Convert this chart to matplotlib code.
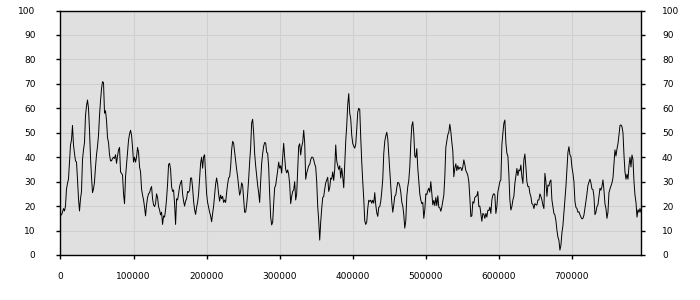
import matplotlib
matplotlib.use("Agg")
import matplotlib.pyplot as plt
import matplotlib.transforms as mtransforms
import numpy as np

# sample spacing along the x axis
step = 1370

# series values left to right
seg1 = [16.4, 16.4, 17.5, 19, 18, 20, 27, 29.3, 31, 38, 45, 47, 53, 45, 41.5, 38.5, 38, 31, 23, 18,
        23, 26, 39, 43, 46, 57, 61, 63.4, 60, 51, 40, 32, 25.5, 27, 30, 36, 41, 44.5, 49, 57,
        63, 68, 70.9, 70.5, 58, 59, 55, 48, 46, 41, 38.5, 38.5, 39.5, 40, 39.5, 41, 37.5, 40.5, 43, 44,
        34, 33.4, 32.7, 25, 21, 32, 37, 42, 47, 49.5, 51, 49, 44, 38, 40, 38, 40, 44, 42, 36,
        34, 27, 24.5, 22.5, 19.5, 16, 20.5, 23.5, 25, 25.5, 27, 28, 23, 20.5, 19.8, 21, 25, 23.5, 19.8, 18.4]
seg2 = [16.4, 17.5, 12.5, 16, 15.5, 18.5, 23, 29, 37, 37.5, 35, 28, 26, 26.6, 21, 12.5, 23, 22.5, 25, 28,
        29.5, 30.5, 25, 22, 20, 22, 23, 26, 25.6, 26.5, 31.5, 31.5, 27.5, 22, 18.5, 16.6, 19.5, 21.5, 25, 31,
        37.5, 40, 35.5, 40.2, 41, 33, 25, 21.5, 19.5, 17.5, 16, 13.6, 17, 20, 24.5, 29, 31.5, 29, 25, 22,
        24.5, 23, 24, 21.5, 22.5, 21.5, 25.5, 29, 31.5, 32, 36, 43, 46.5, 45.7, 42, 38, 35, 32, 28, 24.5,
        26, 29.5, 28.5, 23, 17.5, 17.5, 20.5, 25, 31, 38, 44, 54, 55.5, 50, 41.5, 36.5, 32.5, 28.5, 25.5, 21.5]
seg3 = [30, 37.5, 41.5, 44.5, 46, 45.8, 42, 41.6, 36, 25, 15.5, 12.3, 13.4, 21, 27.5, 28.5, 31.5, 34.5, 38, 35.5,
        36.5, 33.5, 40, 45.7, 40, 35, 33.6, 34.8, 33, 29, 21, 24, 26, 26.6, 30, 22.5, 25, 34.5, 44.5, 45.5,
        40.9, 44.3, 46, 51, 46, 31, 33.5, 35, 36.5, 37, 39, 40, 40, 39, 37.2, 36, 30, 20, 14, 6.1,
        13.5, 19, 23.5, 23.9, 27, 29.5, 30.6, 31.8, 26, 27.5, 31.5, 31, 34, 30.5, 35, 45, 38.5, 36.6, 35, 36.5,
        31.5, 35.5, 32, 27.5, 37, 46.5, 53, 61.5, 66, 58, 55.7, 49, 45.6, 44.5, 43.7, 45.3, 51.5, 58.5, 60, 59.5]
seg4 = [48, 38, 30, 23, 14, 12.5, 13.5, 19, 22.4, 21.9, 22.4, 21.2, 22.4, 21.2, 25.5, 20.5, 17.3, 15.8, 19.5, 19.8,
        22, 26, 31, 41.5, 46.5, 48.7, 50.2, 47.5, 41, 34, 27.5, 21.7, 17.5, 20.5, 24, 24.5, 27.5, 29.7, 29.5, 28.2,
        25.7, 21.6, 20, 16.5, 11, 14, 23.9, 28, 30.5, 36, 45.7, 52.8, 54.5, 49.5, 40.5, 39.8, 43.5, 35.5, 30.5, 25,
        22.5, 21, 21.5, 15, 18.5, 25, 24.7, 26.3, 27.3, 25.7, 30, 25, 20.5, 22.3, 20.2, 23.5, 20.2, 24.2, 19.5, 19.3,
        17.9, 19.6, 22, 24.5, 32, 44, 46.7, 49.2, 50.3, 53.5, 50.5, 46.2, 42.5, 32, 35.5, 37.3, 34.5, 36.5, 35, 35.8]
seg5 = [35.7, 34.5, 36, 38.9, 37, 34.5, 33.7, 32.5, 30, 23.5, 15.7, 16, 21.8, 21.2, 23.5, 24, 24.2, 26, 19.8, 20,
        17, 13.8, 17, 16.6, 15, 17, 15.5, 18.3, 18.2, 19.6, 17, 22.5, 24.5, 25.1, 24.5, 17, 19.8, 25.8, 28, 30,
        30.7, 45, 49.8, 53.9, 55.2, 46, 41.6, 40.5, 33, 22.5, 18.4, 19.8, 22.5, 24, 29.3, 32.5, 35.4, 32.5, 34.8, 34.4,
        36.8, 32, 29.3, 39, 41.3, 36, 30, 28, 28, 25.2, 23.9, 21, 20.7, 19, 21, 20.6, 20.4, 22.5, 22.5, 25,
        24, 22.5, 20.4, 19, 33.4, 30, 24, 28.6, 28.2, 30, 30.7, 22.5, 19.8, 17, 16.4, 14, 10.2, 7.3, 6, 2]
seg6 = [4, 9, 12, 17.5, 23, 28, 35, 42, 44.3, 41, 40.2, 36, 33.4, 30, 22, 19.5, 19, 17.5, 17.7, 16.5,
        15.5, 14.8, 15, 16.3, 19, 22, 25, 28.5, 29.8, 31, 29.5, 27, 26.8, 24, 16.5, 17.5, 19.8, 20.5, 24, 27.3,
        26.5, 28, 30.7, 26.5, 21, 19, 15, 17.5, 25.5, 27, 28.3, 29.5, 31.5, 37, 43, 40.5, 43.4, 45.5, 49, 53,
        53.2, 52.5, 50, 41, 34, 31, 33, 31, 36.5, 40, 36, 40.9, 39, 30, 24.5, 21.5, 15.5, 18.5, 17.5, 19,
        17.5]

values = seg1 + seg2 + seg3 + seg4 + seg5 + seg6
xs = np.arange(len(values)) * step

x_ticks = [0, 100000, 200000, 300000, 400000, 500000, 600000, 700000]
y_ticks = [0, 10, 20, 30, 40, 50, 60, 70, 80, 90, 100]

plt.rcParams['font.family'] = ['DejaVu Sans']

fig = plt.figure(figsize=(7, 3), dpi=100)
ax = fig.add_axes([0.0864, 0.15, 0.8293, 0.815])
ax.set_facecolor('#e0e0e0')

ax.plot(xs, values, color='black', linewidth=0.7)

ax.set_xlim(0, xs[-1])
ax.set_ylim(0, 100)
ax.set_xticks(x_ticks)
ax.set_xticklabels([str(t) for t in x_ticks])
ax.set_yticks(y_ticks)

ax.grid(True, color='#cfcfcf', linewidth=0.8)
ax.set_axisbelow(True)

for s in ax.spines.values():
    s.set_color('black')
    s.set_linewidth(1)

ax.tick_params(axis='x', direction='out', length=3, width=1, pad=9, labelsize=6.5)
ax.tick_params(axis='y', direction='out', length=3, width=1, pad=15, labelsize=6.5,
               left=True, right=True, labelleft=True, labelright=True)

# right-side labels sit a little closer to the spine than the left ones
shift = mtransforms.ScaledTranslation(-4 / 100, 0, fig.dpi_scale_trans)
for t in ax.yaxis.get_major_ticks():
    t.label2.set_transform(t.label2.get_transform() + shift)

fig.savefig('out.png', dpi=100, facecolor='white')
